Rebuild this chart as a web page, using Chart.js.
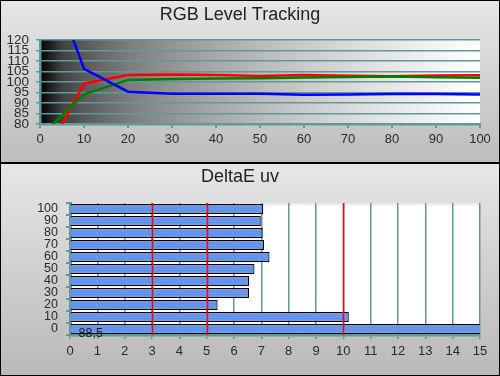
<!DOCTYPE html>
<html>
<head>
<meta charset="utf-8">
<script src="https://cdn.jsdelivr.net/npm/chart.js@4/dist/chart.umd.min.js"></script>
<style>
  html, body { margin: 0; padding: 0; background: #fff; }
  #wrap { position: relative; width: 500px; height: 376px; overflow: hidden; }
  #topBg { position: absolute; left: 0; top: 0; width: 500px; height: 163px;
           background: linear-gradient(to bottom, #e6e6e6, #bdbdbd); }
  #botBg { position: absolute; left: 0; top: 164px; width: 500px; height: 212px;
           background: linear-gradient(to bottom, #e6e6e6, #b9b9b9); }
  #c1 { position: absolute; left: 0; top: 0; }
  #c2 { position: absolute; left: 0; top: 164px; }
  #frame { position: absolute; left: 0; top: 0; width: 500px; height: 376px;
           box-sizing: border-box; border: 1px solid #000; pointer-events: none; }
  #sep { position: absolute; left: 0; top: 162px; width: 500px; height: 2px; background: #000; }
</style>
</head>
<body>
<div id="wrap">
  <div id="topBg"></div>
  <div id="botBg"></div>
  <canvas id="c1" width="500" height="163"></canvas>
  <canvas id="c2" width="500" height="212"></canvas>
  <div id="sep"></div>
  <div id="frame"></div>
</div>
<script>
// ---- Data: RGB Level Tracking ----
const levels = [0, 10, 20, 30, 40, 50, 60, 70, 80, 90, 100];
const redLevels = [60.3, 99.2, 103.3, 103.6, 103.3, 102.9, 103.3, 103.0, 102.7, 103.1, 103.2];
const greenLevels = [74.0, 94.1, 101.0, 101.4, 101.7, 101.8, 102.1, 102.4, 102.6, 102.3, 102.0];
const blueLevels = [163.0, 106.3, 95.4, 94.4, 94.4, 94.4, 93.9, 94.1, 94.3, 94.3, 94.0];

// ---- Data: DeltaE uv ----
const deCategories = ['0', '10', '20', '30', '40', '50', '60', '70', '80', '90', '100'];
const deValues = [88.5, 10.2, 5.4, 6.55, 6.55, 6.75, 7.3, 7.1, 7.05, 6.98, 7.07];
const deLimits = [3, 5, 10];

const FONT = 'Arial, "Liberation Sans", sans-serif';
const TEAL = '#5f9a99';
Chart.defaults.font.family = FONT;
Chart.defaults.color = '#2a2a2a';

const plotBgTop = {
  id: 'plotBgTop',
  beforeDraw(chart) {
    const a = chart.chartArea, ctx = chart.ctx;
    const g = ctx.createLinearGradient(a.left, 0, a.right, 0);
    for (let i = 0; i <= 20; i++) {
      const t = i / 20;
      const v = Math.round(255 * Math.pow(t, 1 / 2.2));
      g.addColorStop(t, 'rgb(' + v + ',' + v + ',' + v + ')');
    }
    ctx.save();
    ctx.fillStyle = g;
    ctx.fillRect(a.left, a.top, a.right - a.left, a.bottom - a.top);
    ctx.restore();
  }
};

new Chart(document.getElementById('c1'), {
  type: 'line',
  data: {
    labels: levels,
    datasets: [
      { data: blueLevels, borderColor: '#0000ff', borderWidth: 2.5, pointRadius: 0, tension: 0 },
      { data: greenLevels, borderColor: '#008000', borderWidth: 2.5, pointRadius: 0, tension: 0 },
      { data: redLevels, borderColor: '#ff0000', borderWidth: 2.5, pointRadius: 0, tension: 0 }
    ]
  },
  options: {
    responsive: false,
    animation: false,
    layout: { padding: { left: 0, right: 20, top: 0, bottom: 0 } },
    plugins: {
      legend: { display: false },
      tooltip: { enabled: false },
      title: {
        display: true, text: 'RGB Level Tracking', color: '#222',
        font: { size: 18, weight: 'normal', family: FONT },
        padding: { top: 4, bottom: 14.4 }
      }
    },
    scales: {
      x: {
        type: 'linear', min: 0, max: 100,
        ticks: { stepSize: 10, font: { size: 13 }, padding: 4, color: '#2a2a2a', autoSkip: false },
        grid: { drawOnChartArea: false, color: TEAL, lineWidth: 2, tickLength: 4 },
        border: { color: TEAL, width: 2.5 },
        afterFit(s) { s.height = 39; }
      },
      y: {
        min: 80, max: 120,
        ticks: { stepSize: 5, font: { size: 13.5, lineHeight: 0.9 }, padding: 7, color: '#2a2a2a', autoSkip: false },
        grid: { color: TEAL, lineWidth: 1.5, tickLength: 4 },
        border: { color: TEAL, width: 2.5 },
        afterFit(s) { s.width = 40; }
      }
    }
  },
  plugins: [plotBgTop]
});

const deExtras = {
  id: 'deExtras',
  beforeDraw(chart) {
    const a = chart.chartArea, ctx = chart.ctx;
    ctx.save();
    ctx.fillStyle = '#ffffff';
    ctx.fillRect(a.left, a.top, a.right - a.left, a.bottom - a.top);
    const g = ctx.createLinearGradient(0, a.top, 0, a.top + 4);
    g.addColorStop(0, '#e4e4e4');
    g.addColorStop(1, '#ffffff');
    ctx.fillStyle = g;
    ctx.fillRect(a.left, a.top, a.right - a.left, 4);
    ctx.restore();
  },
  afterDatasetsDraw(chart) {
    const a = chart.chartArea, ctx = chart.ctx;
    const xs = chart.scales.x;
    ctx.save();
    ctx.strokeStyle = '#ff0000';
    ctx.lineWidth = 1.5;
    deLimits.forEach(v => {
      const px = Math.round(xs.getPixelForValue(v)) + 0.5;
      ctx.beginPath();
      ctx.moveTo(px, a.top);
      ctx.lineTo(px, a.bottom);
      ctx.stroke();
    });
    // value label for the clipped bar
    const meta = chart.getDatasetMeta(0);
    deValues.forEach((v, i) => {
      if (v > xs.max) {
        const bar = meta.data[i];
        ctx.fillStyle = '#1a1a1a';
        ctx.font = '12.5px ' + FONT;
        ctx.textAlign = 'center';
        ctx.textBaseline = 'middle';
        ctx.fillText(String(v).replace('.', ','), bar.base + 20, bar.y + 5);
      }
    });
    ctx.restore();
  }
};

new Chart(document.getElementById('c2'), {
  type: 'bar',
  data: {
    labels: deCategories,
    datasets: [{
      data: deValues,
      backgroundColor: '#6495ed',
      borderColor: '#000000',
      borderWidth: 1.2,
      barPercentage: 0.84,
      categoryPercentage: 1.0
    }]
  },
  options: {
    indexAxis: 'y',
    responsive: false,
    animation: false,
    layout: { padding: { left: 0, right: 20, top: 0, bottom: 0 } },
    plugins: {
      legend: { display: false },
      tooltip: { enabled: false },
      title: {
        display: true, text: 'DeltaE uv', color: '#222',
        font: { size: 18, weight: 'normal', family: FONT },
        padding: { top: 2.2, bottom: 15.2 }
      }
    },
    scales: {
      x: {
        type: 'linear', min: 0, max: 15,
        ticks: { stepSize: 1, font: { size: 13 }, padding: 5, color: '#2a2a2a', autoSkip: false },
        grid: { color: TEAL, lineWidth: 1.5, tickLength: 4 },
        border: { color: TEAL, width: 2.5 },
        afterFit(s) { s.height = 41; }
      },
      y: {
        reverse: true,
        ticks: { font: { size: 12.5, lineHeight: 0.9 }, padding: 8, color: '#2a2a2a', autoSkip: false },
        grid: { drawOnChartArea: false, color: TEAL, lineWidth: 2, tickLength: 4 },
        border: { color: TEAL, width: 3 },
        afterFit(s) { s.width = 70; }
      }
    }
  },
  plugins: [deExtras]
});
</script>
</body>
</html>
